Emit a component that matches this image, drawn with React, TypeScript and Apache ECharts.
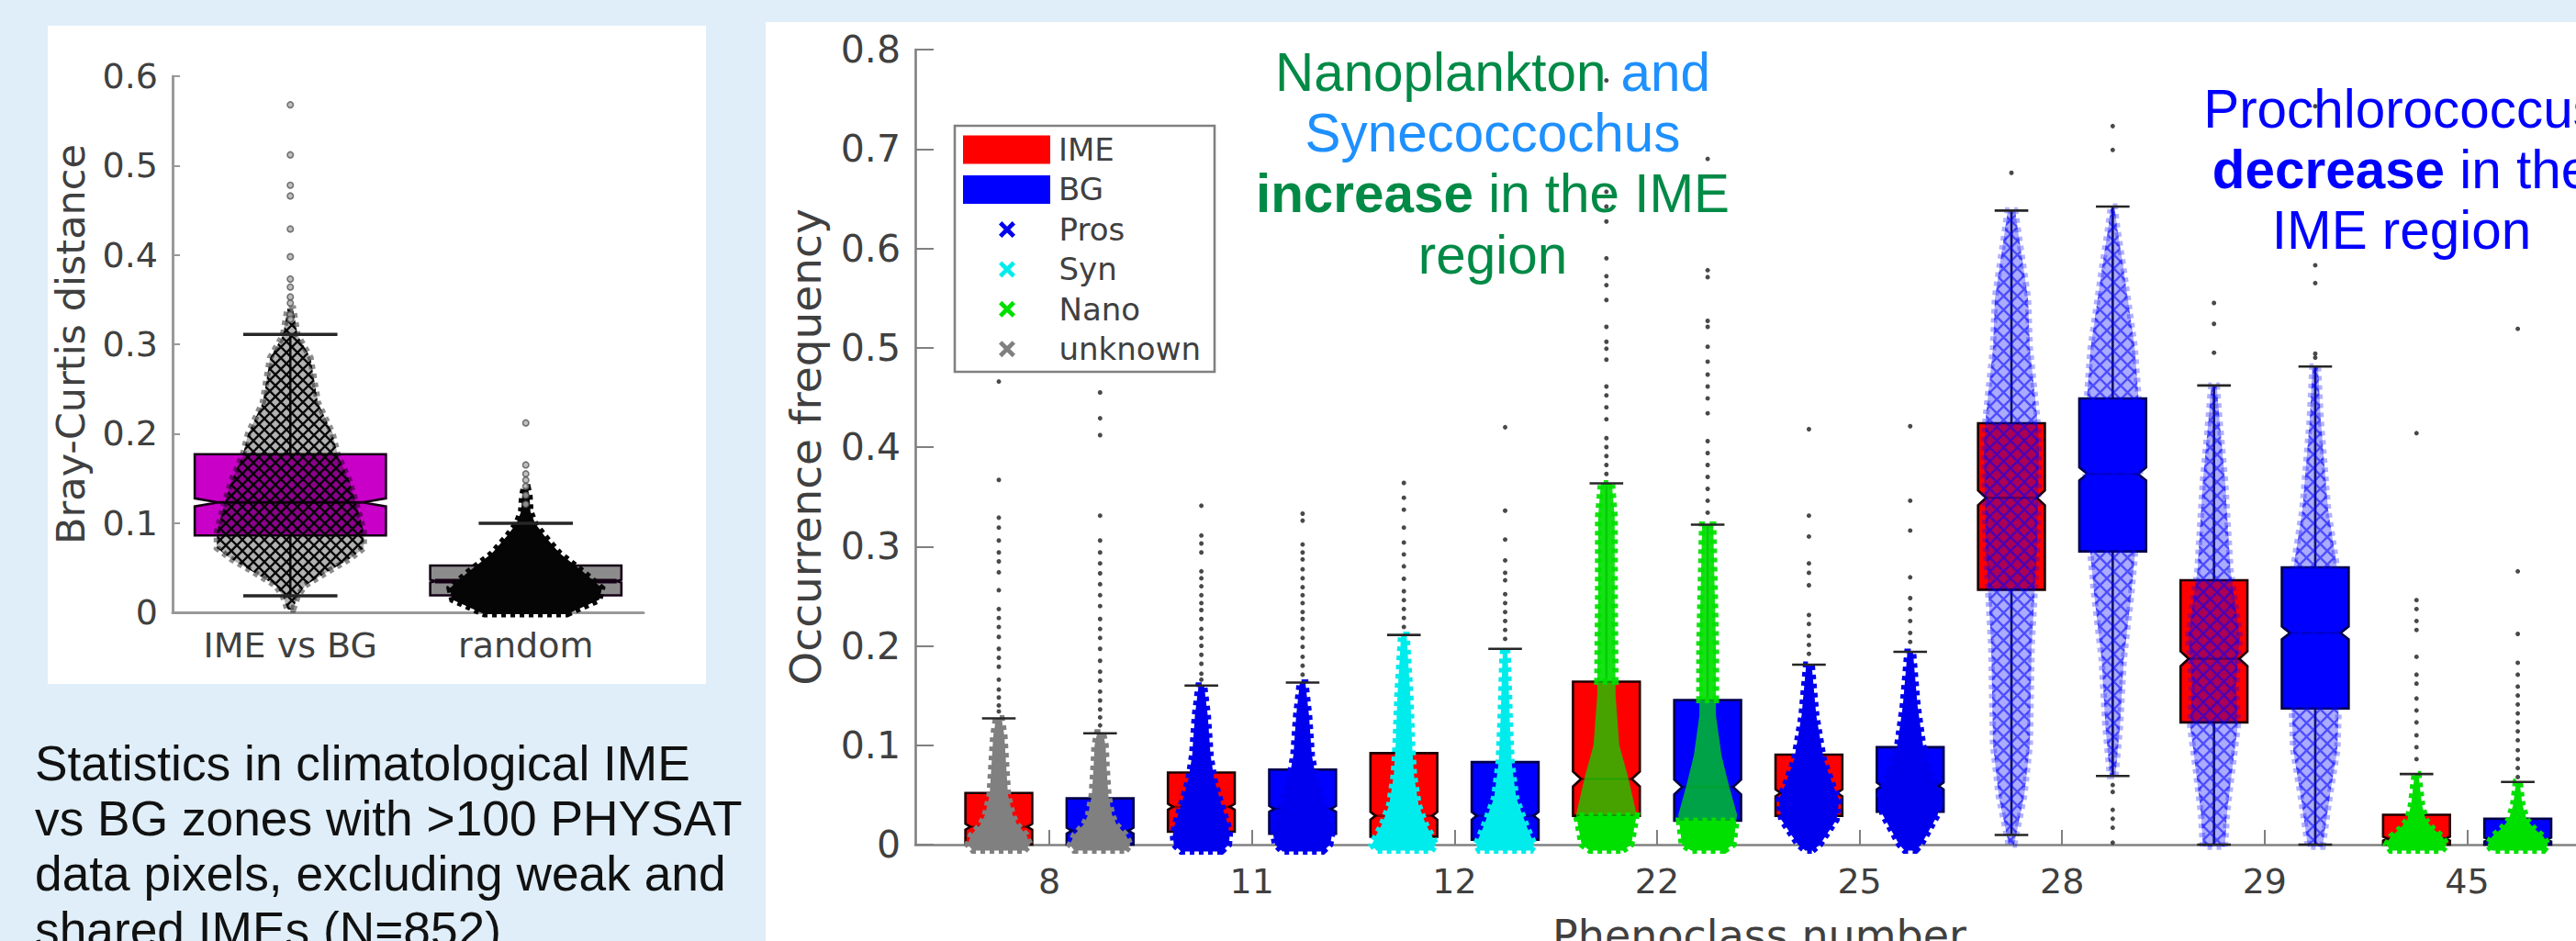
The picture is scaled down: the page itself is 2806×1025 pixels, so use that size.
import React, { useEffect, useRef } from "react";
import * as echarts from "echarts";

// ---------- Right chart data ----------
const phenoclassLabels = ["8", "11", "12", "22", "25", "28", "29", "45"];
const phenoclassTicks = [1.5, 3.5, 5.5, 7.5, 9.5, 11.5, 13.5, 15.5];
const boxPositions = [1, 2, 3, 4, 5, 6, 7, 8, 9, 10, 11, 12, 13, 14, 15, 16];
const boxQ1 = [0, 0, 0.013, 0.011, 0.008, 0.005, 0.029, 0.024, 0.029, 0.033, 0.2565, 0.295, 0.123, 0.137, 0, 0];
const boxMedian = [0.018, 0.014, 0.038, 0.036, 0.029, 0.029, 0.066, 0.058, 0.052, 0.059, 0.349, 0.373, 0.187, 0.213, 0.006, 0.005];
const boxQ3 = [0.052, 0.0465, 0.0725, 0.0755, 0.092, 0.083, 0.164, 0.1455, 0.0905, 0.098, 0.424, 0.449, 0.266, 0.279, 0.03, 0.026];
const boxNotch = [0.003, 0.003, 0.003, 0.003, 0.004, 0.004, 0.0075, 0.0075, 0.0035, 0.0035, 0.0075, 0.0065, 0.0075, 0.0065, 0.002, 0.002];
const whiskerLow = [0, 0, 0, 0, 0, 0, 0, 0, 0, 0, 0.0097, 0.069, 0, 0, 0, 0];
const whiskerHigh = [0.127, 0.112, 0.16, 0.163, 0.211, 0.197, 0.3635, 0.322, 0.181, 0.194, 0.638, 0.642, 0.462, 0.481, 0.071, 0.063];
const swarmGroup = ["unknown", "unknown", "Pros", "Pros", "Syn", "Syn", "Nano", "Nano", "Pros", "Pros", "Pros", "Pros", "Pros", "Pros", "Nano", "Nano"];
const swarmIsSparse = [false, false, false, false, false, false, false, false, false, false, true, true, true, true, false, false];
const swarmShowsBox = [false, false, false, false, false, false, true, true, false, false, false, false, false, false, false, false];

// [value, spread] outline of each swarm, bottom to top
const swarmOutlines: number[][][] = [
  [[-0.006, 28], [0, 34], [0.01, 30], [0.02, 20], [0.03, 15], [0.05, 10], [0.08, 8], [0.11, 6], [0.127, 3]],
  [[-0.006, 28], [0, 33], [0.01, 28], [0.02, 18], [0.03, 13], [0.05, 9], [0.08, 7], [0.1, 6], [0.113, 3]],
  [[-0.007, 22], [0, 30], [0.01, 31], [0.02, 29], [0.04, 22], [0.066, 14], [0.09, 10], [0.13, 7], [0.16, 3]],
  [[-0.007, 22], [0, 30], [0.01, 32], [0.02, 30], [0.04, 23], [0.07, 14], [0.09, 10], [0.13, 7], [0.163, 3]],
  [[-0.006, 30], [0, 35], [0.01, 30], [0.02, 24], [0.04, 16], [0.07, 11], [0.1, 9], [0.15, 7], [0.211, 3]],
  [[-0.006, 28], [0, 32], [0.017, 24], [0.047, 12], [0.083, 7], [0.125, 5], [0.186, 3], [0.197, 2]],
  [[-0.006, 18], [0, 27], [0.03, 33], [0.07, 23], [0.1, 14], [0.15, 10], [0.25, 9], [0.33, 9], [0.3635, 6]],
  [[-0.006, 18], [0, 28], [0.03, 32], [0.06, 23], [0.09, 15], [0.13, 9], [0.2, 9], [0.322, 6]],
  [[-0.006, 4], [0, 12], [0.025, 30], [0.045, 33], [0.06, 26], [0.086, 16], [0.13, 8], [0.181, 3]],
  [[-0.006, 6], [0, 12], [0.03, 30], [0.05, 33], [0.07, 24], [0.1, 14], [0.14, 8], [0.194, 3]],
  [[0.0, 3], [0.05, 14], [0.1, 20], [0.2, 22], [0.3, 28], [0.4, 30], [0.43, 28], [0.5, 20], [0.55, 18], [0.6, 10], [0.638, 4]],
  [[0.069, 3], [0.12, 8], [0.186, 12], [0.25, 20], [0.3, 25], [0.38, 30], [0.45, 28], [0.5, 24], [0.578, 12], [0.62, 5], [0.642, 2]],
  [[-0.002, 12], [0.03, 14], [0.077, 20], [0.12, 26], [0.16, 24], [0.21, 28], [0.276, 18], [0.367, 12], [0.427, 6], [0.462, 3]],
  [[-0.002, 8], [0.05, 16], [0.095, 24], [0.15, 26], [0.277, 24], [0.337, 14], [0.427, 6], [0.481, 3]],
  [[-0.006, 28], [0, 33], [0.008, 28], [0.016, 18], [0.025, 10], [0.04, 6], [0.071, 2]],
  [[-0.006, 28], [0, 33], [0.008, 28], [0.016, 18], [0.025, 10], [0.04, 5], [0.063, 2]],
];

const outlierValues: number[][] = [
  [0.466, 0.367, 0.329, 0.319, 0.306, 0.294, 0.285, 0.274, 0.256, 0.237, 0.228, 0.219, 0.209, 0.197, 0.188, 0.179, 0.166, 0.156, 0.148, 0.14, 0.134],
  [0.455, 0.429, 0.412, 0.331, 0.306, 0.294, 0.283, 0.273, 0.262, 0.251, 0.24, 0.227, 0.217, 0.208, 0.197, 0.185, 0.174, 0.165, 0.154, 0.145, 0.136, 0.128, 0.12],
  [0.341, 0.311, 0.303, 0.294, 0.275, 0.268, 0.26, 0.251, 0.243, 0.236, 0.227, 0.217, 0.208, 0.2, 0.191, 0.182, 0.172, 0.166],
  [0.333, 0.326, 0.302, 0.294, 0.287, 0.277, 0.268, 0.259, 0.251, 0.243, 0.234, 0.227, 0.217, 0.208, 0.199, 0.189, 0.18, 0.171],
  [0.364, 0.349, 0.337, 0.319, 0.304, 0.292, 0.28, 0.2675, 0.255, 0.246, 0.237, 0.228, 0.219],
  [0.42, 0.336, 0.307, 0.286, 0.2735, 0.266, 0.252, 0.243, 0.234, 0.225, 0.216, 0.207],
  [0.769, 0.657, 0.642, 0.627, 0.59, 0.572, 0.563, 0.548, 0.521, 0.506, 0.499, 0.488, 0.461, 0.452, 0.44, 0.428, 0.409, 0.4, 0.391, 0.382, 0.373],
  [0.69, 0.578, 0.571, 0.527, 0.521, 0.501, 0.486, 0.473, 0.461, 0.449, 0.434, 0.406, 0.394, 0.382, 0.37, 0.358, 0.346, 0.334],
  [0.418, 0.331, 0.31, 0.283, 0.2735, 0.261, 0.231, 0.222, 0.21, 0.201, 0.192],
  [0.421, 0.346, 0.316, 0.269, 0.248, 0.237, 0.225, 0.213, 0.204],
  [0.676],
  [0.723, 0.699, 0.06, 0.053, 0.035, 0.026, 0.017, 0.002],
  [0.545, 0.524, 0.495],
  [0.743, 0.583, 0.565, 0.494, 0.49],
  [0.414, 0.246, 0.237, 0.225, 0.216, 0.189, 0.171, 0.162, 0.147, 0.135, 0.123, 0.11, 0.098, 0.086],
  [0.519, 0.275, 0.212, 0.183, 0.171, 0.159, 0.15, 0.141, 0.132, 0.123, 0.114, 0.105, 0.095, 0.086, 0.077, 0.068],
];

// ---------- Left chart data ----------
const comparisonLabels = ["IME vs BG", "random"];
const comparisonQ1 = [0.086, 0.019];
const comparisonMedian = [0.123, 0.035];
const comparisonQ3 = [0.177, 0.0524];
const comparisonNotch = [0.0045, 0.0015];
const comparisonLow = [0.0185, 0.002];
const comparisonHigh = [0.311, 0.0997];
const comparisonOutlines: number[][][] = [
  [[0.003, 3], [0.018, 8], [0.03, 16], [0.045, 40], [0.06, 65], [0.072, 80], [0.09, 80], [0.11, 75], [0.148, 64], [0.175, 52], [0.2, 46], [0.235, 30], [0.285, 22], [0.31, 8], [0.34, 3]],
  [[-0.002, 45], [0.014, 80], [0.027, 83], [0.045, 63], [0.066, 37], [0.086, 20], [0.1, 10], [0.113, 5], [0.13, 4], [0.14, 2]],
];
const comparisonOutliers: number[][] = [
  [0.568, 0.512, 0.478, 0.466, 0.429, 0.398, 0.373, 0.364, 0.353, 0.346, 0.333, 0.328],
  [0.212, 0.165, 0.155, 0.148, 0.141, 0.131, 0.121],
];

// ---------- Texts ----------
const captionText = "Statistics in climatological IME\nvs BG zones with >100 PHYSAT\ndata pixels, excluding weak and\nshared IMEs (N=852)";
const increaseText = "{g|Nanoplankton }{c|and}\n{c|Synecoccochus}\n{gb|increase}{g| in the IME}\n{g|region}";
const decreaseText = "{b|Prochlorococcus}\n{bb|decrease}{b| in the}\n{b|IME region}";

const W = 2806;
const H = 1025;
const TICK_FONT = "DejaVu Sans";
const NOTE_FONT = "Liberation Sans";
const INK = "#404040";
const AXIS_GREY = "#808080";

const hatch = (stroke: string, sw: number, op: number, bg: string, size: number) => {
  const s = `<svg xmlns="http://www.w3.org/2000/svg" width="${size}" height="${size}"><rect width="${size}" height="${size}" fill="${bg}"/><path d="M0 0L${size} ${size}M${size} 0L0 ${size}" stroke="${stroke}" stroke-width="${sw}" stroke-opacity="${op}"/></svg>`;
  return {
    image: "data:image/svg+xml;charset=utf-8," + encodeURIComponent(s),
    repeat: "repeat",
    imageWidth: size,
    imageHeight: size,
  };
};
const blueHatch = hatch("#0000ff", 2.4, 0.55, "rgba(0,0,255,0.33)", 15);
const blackHatch = hatch("#000000", 2.4, 0.95, "rgba(0,0,0,0.3)", 12);

const groupColors: Record<string, string> = { Pros: "#0000ee", Syn: "#00ecec", Nano: "#00e000", unknown: "#808080" };
const crossIcon = "path://M3 0L8 5L13 0L16 3L11 8L16 13L13 16L8 11L3 16L0 13L5 8L0 3Z";

function boxItem(api: any, x: number, q1: number, med: number, q3: number, lo: number, hi: number, half: number, inset: number, notchH: number, fill: string, edge: string, medianWidth: number, medianOpacity: number) {
  const band = api.size([1, 0])[0];
  const cx = api.coord([x, 0])[0];
  const y = (v: number) => api.coord([x, v])[1];
  const hw = band * half;
  const ins = band * inset;
  const nTop = Math.min(med + notchH, q3);
  const nBot = Math.max(med - notchH, q1);
  const points = [
    [cx - hw, y(q3)], [cx + hw, y(q3)], [cx + hw, y(nTop)], [cx + hw - ins, y(med)], [cx + hw, y(nBot)], [cx + hw, y(q1)],
    [cx - hw, y(q1)], [cx - hw, y(nBot)], [cx - hw + ins, y(med)], [cx - hw, y(nTop)],
  ];
  const line = (x1: number, y1: number, x2: number, y2: number, w: number, opacity = 1, stroke = "#1a1a1a") => ({
    type: "line", shape: { x1, y1, x2, y2 }, style: { stroke, lineWidth: w, opacity },
  });
  return {
    type: "group",
    children: [
      line(cx, y(q3), cx, y(hi), 2.6),
      line(cx, y(q1), cx, y(lo), 2.6),
      { type: "polygon", shape: { points }, style: { fill, stroke: edge, lineWidth: 2.6 } },
      line(cx - hw + ins, y(med), cx + hw - ins, y(med), medianWidth, medianOpacity, edge),
    ],
  };
}

function swarmPolygon(api: any, x: number, outline: number[][], unit: number, fill: any, opacity: number, edge: string | null) {
  const band = api.size([1, 0])[0];
  const cx = api.coord([x, 0])[0];
  const k = band / unit;
  const right = outline.map(([v, s]) => [cx + s * k, api.coord([x, v])[1]]);
  const left = outline.slice().reverse().map(([v, s]) => [cx - s * k, api.coord([x, v])[1]]);
  const style: any = { fill, opacity };
  if (edge) {
    // the toothed rim stands for the crosses that stick out of the swarm's outline
    style.stroke = edge;
    style.lineWidth = 7;
    style.lineDash = [5, 5];
  }
  return { type: "polygon", shape: { points: right.concat(left) }, style };
}

// part of an outline between two values, for drawing it differently where it crosses a box
function sliceOutline(outline: number[][], a: number, b: number) {
  const at = (v: number) => {
    for (let i = 1; i < outline.length; i++) {
      const [v0, s0] = outline[i - 1];
      const [v1, s1] = outline[i];
      if (v >= v0 && v <= v1) return s0 + ((s1 - s0) * (v - v0)) / (v1 - v0);
    }
    return 0;
  };
  const lo = Math.max(a, outline[0][0]);
  const hi = Math.min(b, outline[outline.length - 1][0]);
  const mid = outline.filter(([v]) => v > lo && v < hi);
  return [[lo, at(lo)], ...mid, [hi, at(hi)]];
}

function capItem(api: any, x: number, lo: number | null, hi: number, half: number, width: number) {
  const band = api.size([1, 0])[0];
  const cx = api.coord([x, 0])[0];
  const hw = band * half;
  const mk = (v: number) => {
    const yy = api.coord([x, v])[1];
    return { type: "line", shape: { x1: cx - hw, y1: yy, x2: cx + hw, y2: yy }, style: { stroke: "#262626", lineWidth: width } };
  };
  return { type: "group", children: lo === null ? [mk(hi)] : [mk(lo), mk(hi)] };
}

function buildOption() {
  const idx = boxPositions.map((_, i) => i);
  const rightAxes = { xAxisIndex: 1, yAxisIndex: 1 };
  const leftAxes = { xAxisIndex: 0, yAxisIndex: 0 };

  const boxSeries = (name: string, odd: number, fill: string, edge: string) => ({
    name,
    type: "custom",
    ...rightAxes,
    z: 2,
    itemStyle: { color: fill },
    encode: { x: 0, y: 2 },
    data: idx.filter((i) => i % 2 === odd).map((i) => [boxPositions[i], i, boxMedian[i]]),
    renderItem: (_: any, api: any) => {
      const i = api.value(1);
      const inset = boxNotch[i] >= 0.006 ? 0.08 : 0.05;
      return boxItem(api, api.value(0), boxQ1[i], boxMedian[i], boxQ3[i], whiskerLow[i], whiskerHigh[i], 0.33, inset, boxNotch[i], fill, edge, 2.6, 0.45);
    },
  });

  const swarmSeries = (name: string) => ({
    name,
    type: "custom",
    ...rightAxes,
    z: 3,
    itemStyle: { color: groupColors[name] },
    encode: { x: 0, y: 2 },
    data: idx.filter((i) => swarmGroup[i] === name).map((i) => [boxPositions[i], i, boxMedian[i]]),
    renderItem: (_: any, api: any) => {
      const i = api.value(1);
      const x = api.value(0);
      const outline = swarmOutlines[i];
      const color = groupColors[name];
      if (swarmShowsBox[i]) {
        return {
          type: "group",
          children: [
            swarmPolygon(api, x, sliceOutline(outline, -1, boxQ1[i]), 110.3, color, 1, color),
            swarmPolygon(api, x, sliceOutline(outline, boxQ1[i], boxQ3[i]), 110.3, color, 0.72, null),
            swarmPolygon(api, x, sliceOutline(outline, boxQ3[i], 1), 110.3, color, 0.92, color),
          ],
        };
      }
      return swarmIsSparse[i]
        ? swarmPolygon(api, x, outline, 110.3, blueHatch, 1, "rgba(0,0,255,0.3)")
        : swarmPolygon(api, x, outline, 110.3, color, 1, color);
    },
  });

  const series: any[] = [
    boxSeries("IME", 0, "#ff0000", "#1c0000"),
    boxSeries("BG", 1, "#0000ff", "#00004a"),
    swarmSeries("Pros"),
    swarmSeries("Syn"),
    swarmSeries("Nano"),
    swarmSeries("unknown"),
    {
      name: "caps",
      type: "custom",
      ...rightAxes,
      z: 4,
      encode: { x: 0, y: 2 },
      data: idx.map((i) => [boxPositions[i], i, boxMedian[i]]),
      renderItem: (_: any, api: any) => {
        const i = api.value(1);
        return capItem(api, api.value(0), swarmIsSparse[i] ? whiskerLow[i] : null, whiskerHigh[i], 0.166, 2.6);
      },
    },
    {
      name: "outliers",
      type: "scatter",
      ...rightAxes,
      z: 3,
      symbol: "circle",
      symbolSize: 5,
      itemStyle: { color: "#1c1c1c" },
      data: outlierValues.flatMap((vals, i) => vals.map((v) => [boxPositions[i], v])),
    },
    {
      name: "comparison boxes",
      type: "custom",
      ...leftAxes,
      z: 2,
      encode: { x: 0, y: 2 },
      data: comparisonLabels.map((_, i) => [i, i, comparisonMedian[i]]),
      renderItem: (_: any, api: any) => {
        const i = api.value(1);
        return boxItem(api, i, comparisonQ1[i], comparisonMedian[i], comparisonQ3[i], comparisonLow[i], comparisonHigh[i], 0.406, i === 0 ? 0.1 : 0.02, comparisonNotch[i], i === 0 ? "#c800c8" : "#8c8c8c", "#140014", i === 0 ? 3 : 5, 1);
      },
    },
    {
      name: "comparison swarm",
      type: "custom",
      ...leftAxes,
      z: 3,
      encode: { x: 0, y: 2 },
      data: comparisonLabels.map((_, i) => [i, i, comparisonMedian[i]]),
      renderItem: (_: any, api: any) => {
        const i = api.value(1);
        return i === 0
          ? swarmPolygon(api, i, comparisonOutlines[i], 256.5, blackHatch, 1, "rgba(0,0,0,0.45)")
          : swarmPolygon(api, i, comparisonOutlines[i], 256.5, "#050505", 1, "#050505");
      },
    },
    {
      name: "comparison caps",
      type: "custom",
      ...leftAxes,
      z: 4,
      encode: { x: 0, y: 2 },
      data: comparisonLabels.map((_, i) => [i, i, comparisonMedian[i]]),
      renderItem: (_: any, api: any) => {
        const i = api.value(1);
        return capItem(api, i, i === 0 ? comparisonLow[i] : null, comparisonHigh[i], 0.2, 3.6);
      },
    },
    {
      name: "comparison outliers",
      type: "scatter",
      ...leftAxes,
      z: 3,
      symbol: "circle",
      symbolSize: 6.5,
      itemStyle: { color: "#b0b0b0", borderColor: "#555555", borderWidth: 1.6 },
      data: comparisonOutliers.flatMap((vals, i) => vals.map((v) => [i, v])),
    },
  ];

  return {
    animation: false,
    backgroundColor: "#dfeef8",
    textStyle: { fontFamily: TICK_FONT },
    tooltip: { show: false },
    grid: [
      { left: 188, top: 83, width: 513, height: 584, containLabel: false, outerBoundsMode: "none" },
      { left: 997, top: 54, width: W - 997, height: 866, containLabel: false, outerBoundsMode: "none" },
    ],
    xAxis: [
      {
        type: "category",
        gridIndex: 0,
        data: comparisonLabels,
        boundaryGap: true,
        axisLine: { lineStyle: { color: "#999999", width: 3 } },
        axisTick: { alignWithLabel: true, inside: true, length: 5, lineStyle: { color: "#999999", width: 2 } },
        axisLabel: { color: INK, fontFamily: TICK_FONT, fontSize: 38, margin: 17 },
        splitLine: { show: false },
      },
      {
        type: "value",
        gridIndex: 1,
        min: 0.175,
        max: 16.575,
        name: "Phenoclass number",
        nameLocation: "middle",
        nameGap: 76,
        nameTextStyle: { color: INK, fontFamily: TICK_FONT, fontSize: 46, padding: [0, 0, 0, 30] },
        axisLine: { onZero: false, lineStyle: { color: AXIS_GREY, width: 2.6 } },
        axisTick: { inside: true, length: 16, customValues: phenoclassTicks, lineStyle: { color: AXIS_GREY, width: 2 } },
        axisLabel: {
          color: INK,
          fontFamily: TICK_FONT,
          fontSize: 38,
          margin: 21,
          customValues: phenoclassTicks,
          formatter: (v: number) => phenoclassLabels[phenoclassTicks.indexOf(v)],
        },
        splitLine: { show: false },
      },
    ],
    yAxis: [
      {
        type: "value",
        gridIndex: 0,
        min: 0,
        max: 0.6,
        interval: 0.1,
        name: "Bray-Curtis distance",
        nameLocation: "middle",
        nameGap: 90,
        nameTextStyle: { color: INK, fontFamily: TICK_FONT, fontSize: 43 },
        axisLine: { show: true, lineStyle: { color: "#999999", width: 3 } },
        axisTick: { show: true, inside: true, length: 8, lineStyle: { color: "#999999", width: 2 } },
        axisLabel: { color: INK, fontFamily: TICK_FONT, fontSize: 38, margin: 16 },
        splitLine: { show: false },
      },
      {
        type: "value",
        gridIndex: 1,
        min: 0,
        max: 0.8,
        interval: 0.1,
        name: "Occurrence frequency",
        nameLocation: "middle",
        nameGap: 96,
        nameTextStyle: { color: INK, fontFamily: TICK_FONT, fontSize: 47 },
        axisLine: { show: true, lineStyle: { color: AXIS_GREY, width: 2.6 } },
        axisTick: { show: true, inside: true, length: 20, lineStyle: { color: AXIS_GREY, width: 2 } },
        axisLabel: { color: INK, fontFamily: TICK_FONT, fontSize: 41, margin: 16 },
        splitLine: { show: false },
      },
    ],
    legend: [
      {
        left: 1049,
        top: 146,
        orient: "vertical",
        padding: 0,
        itemWidth: 95,
        itemHeight: 31,
        itemGap: 9.4,
        selectedMode: false,
        textStyle: { color: INK, fontFamily: TICK_FONT, fontSize: 34, padding: [0, 0, 0, 4] },
        data: [
          { name: "IME", icon: "rect" },
          { name: "BG", icon: "rect" },
        ],
      },
      {
        left: 1088,
        top: 233,
        orient: "vertical",
        padding: 0,
        itemWidth: 95,
        itemHeight: 18,
        itemGap: 9.4,
        selectedMode: false,
        textStyle: { color: INK, fontFamily: TICK_FONT, fontSize: 34, padding: [0, 0, 0, 4] },
        data: ["Pros", "Syn", "Nano", "unknown"].map((name) => ({ name, icon: crossIcon })),
      },
    ],
    graphic: [
      { type: "rect", z: -10, shape: { x: 52, y: 28, width: 717, height: 717 }, style: { fill: "#ffffff" }, silent: true },
      { type: "rect", z: -10, shape: { x: 834, y: 24, width: W - 834, height: H - 24 }, style: { fill: "#ffffff" }, silent: true },
      { type: "rect", z: 1, shape: { x: 1040, y: 137, width: 283, height: 268 }, style: { fill: "#ffffff", stroke: AXIS_GREY, lineWidth: 2.6 }, silent: true },
      {
        type: "text",
        z: 50,
        x: 38,
        y: 801,
        silent: true,
        style: { text: captionText, fill: "#111111", font: `53.3px "${NOTE_FONT}"`, lineHeight: 60.3, align: "left", verticalAlign: "top" },
      },
      {
        type: "text",
        z: 50,
        x: 1626,
        y: 45,
        silent: true,
        style: {
          text: increaseText,
          align: "center",
          verticalAlign: "top",
          rich: {
            g: { fill: "#008a46", fontFamily: NOTE_FONT, fontSize: 58.4, lineHeight: 66.3 },
            gb: { fill: "#008a46", fontFamily: NOTE_FONT, fontSize: 58.4, fontWeight: "bold", lineHeight: 66.3 },
            c: { fill: "#1e90ff", fontFamily: NOTE_FONT, fontSize: 58.4, lineHeight: 66.3 },
          },
        },
      },
      {
        type: "text",
        z: 50,
        x: 2616,
        y: 85,
        silent: true,
        style: {
          text: decreaseText,
          align: "center",
          verticalAlign: "top",
          rich: {
            b: { fill: "#0000ff", fontFamily: NOTE_FONT, fontSize: 58.4, lineHeight: 66 },
            bb: { fill: "#0000ff", fontFamily: NOTE_FONT, fontSize: 58.4, fontWeight: "bold", lineHeight: 66 },
          },
        },
      },
    ],
    series,
  };
}

export default function App() {
  const ref = useRef<HTMLDivElement>(null);
  useEffect(() => {
    document.body.style.margin = "0";
    document.body.style.background = "#dfeef8";
    document.body.style.overflow = "hidden";
    const chart = echarts.init(ref.current!, undefined, { renderer: "svg", width: W, height: H });
    chart.setOption(buildOption() as any);
    return () => chart.dispose();
  }, []);
  return <div ref={ref} style={{ width: W, height: H, overflow: "hidden" }} />;
}
